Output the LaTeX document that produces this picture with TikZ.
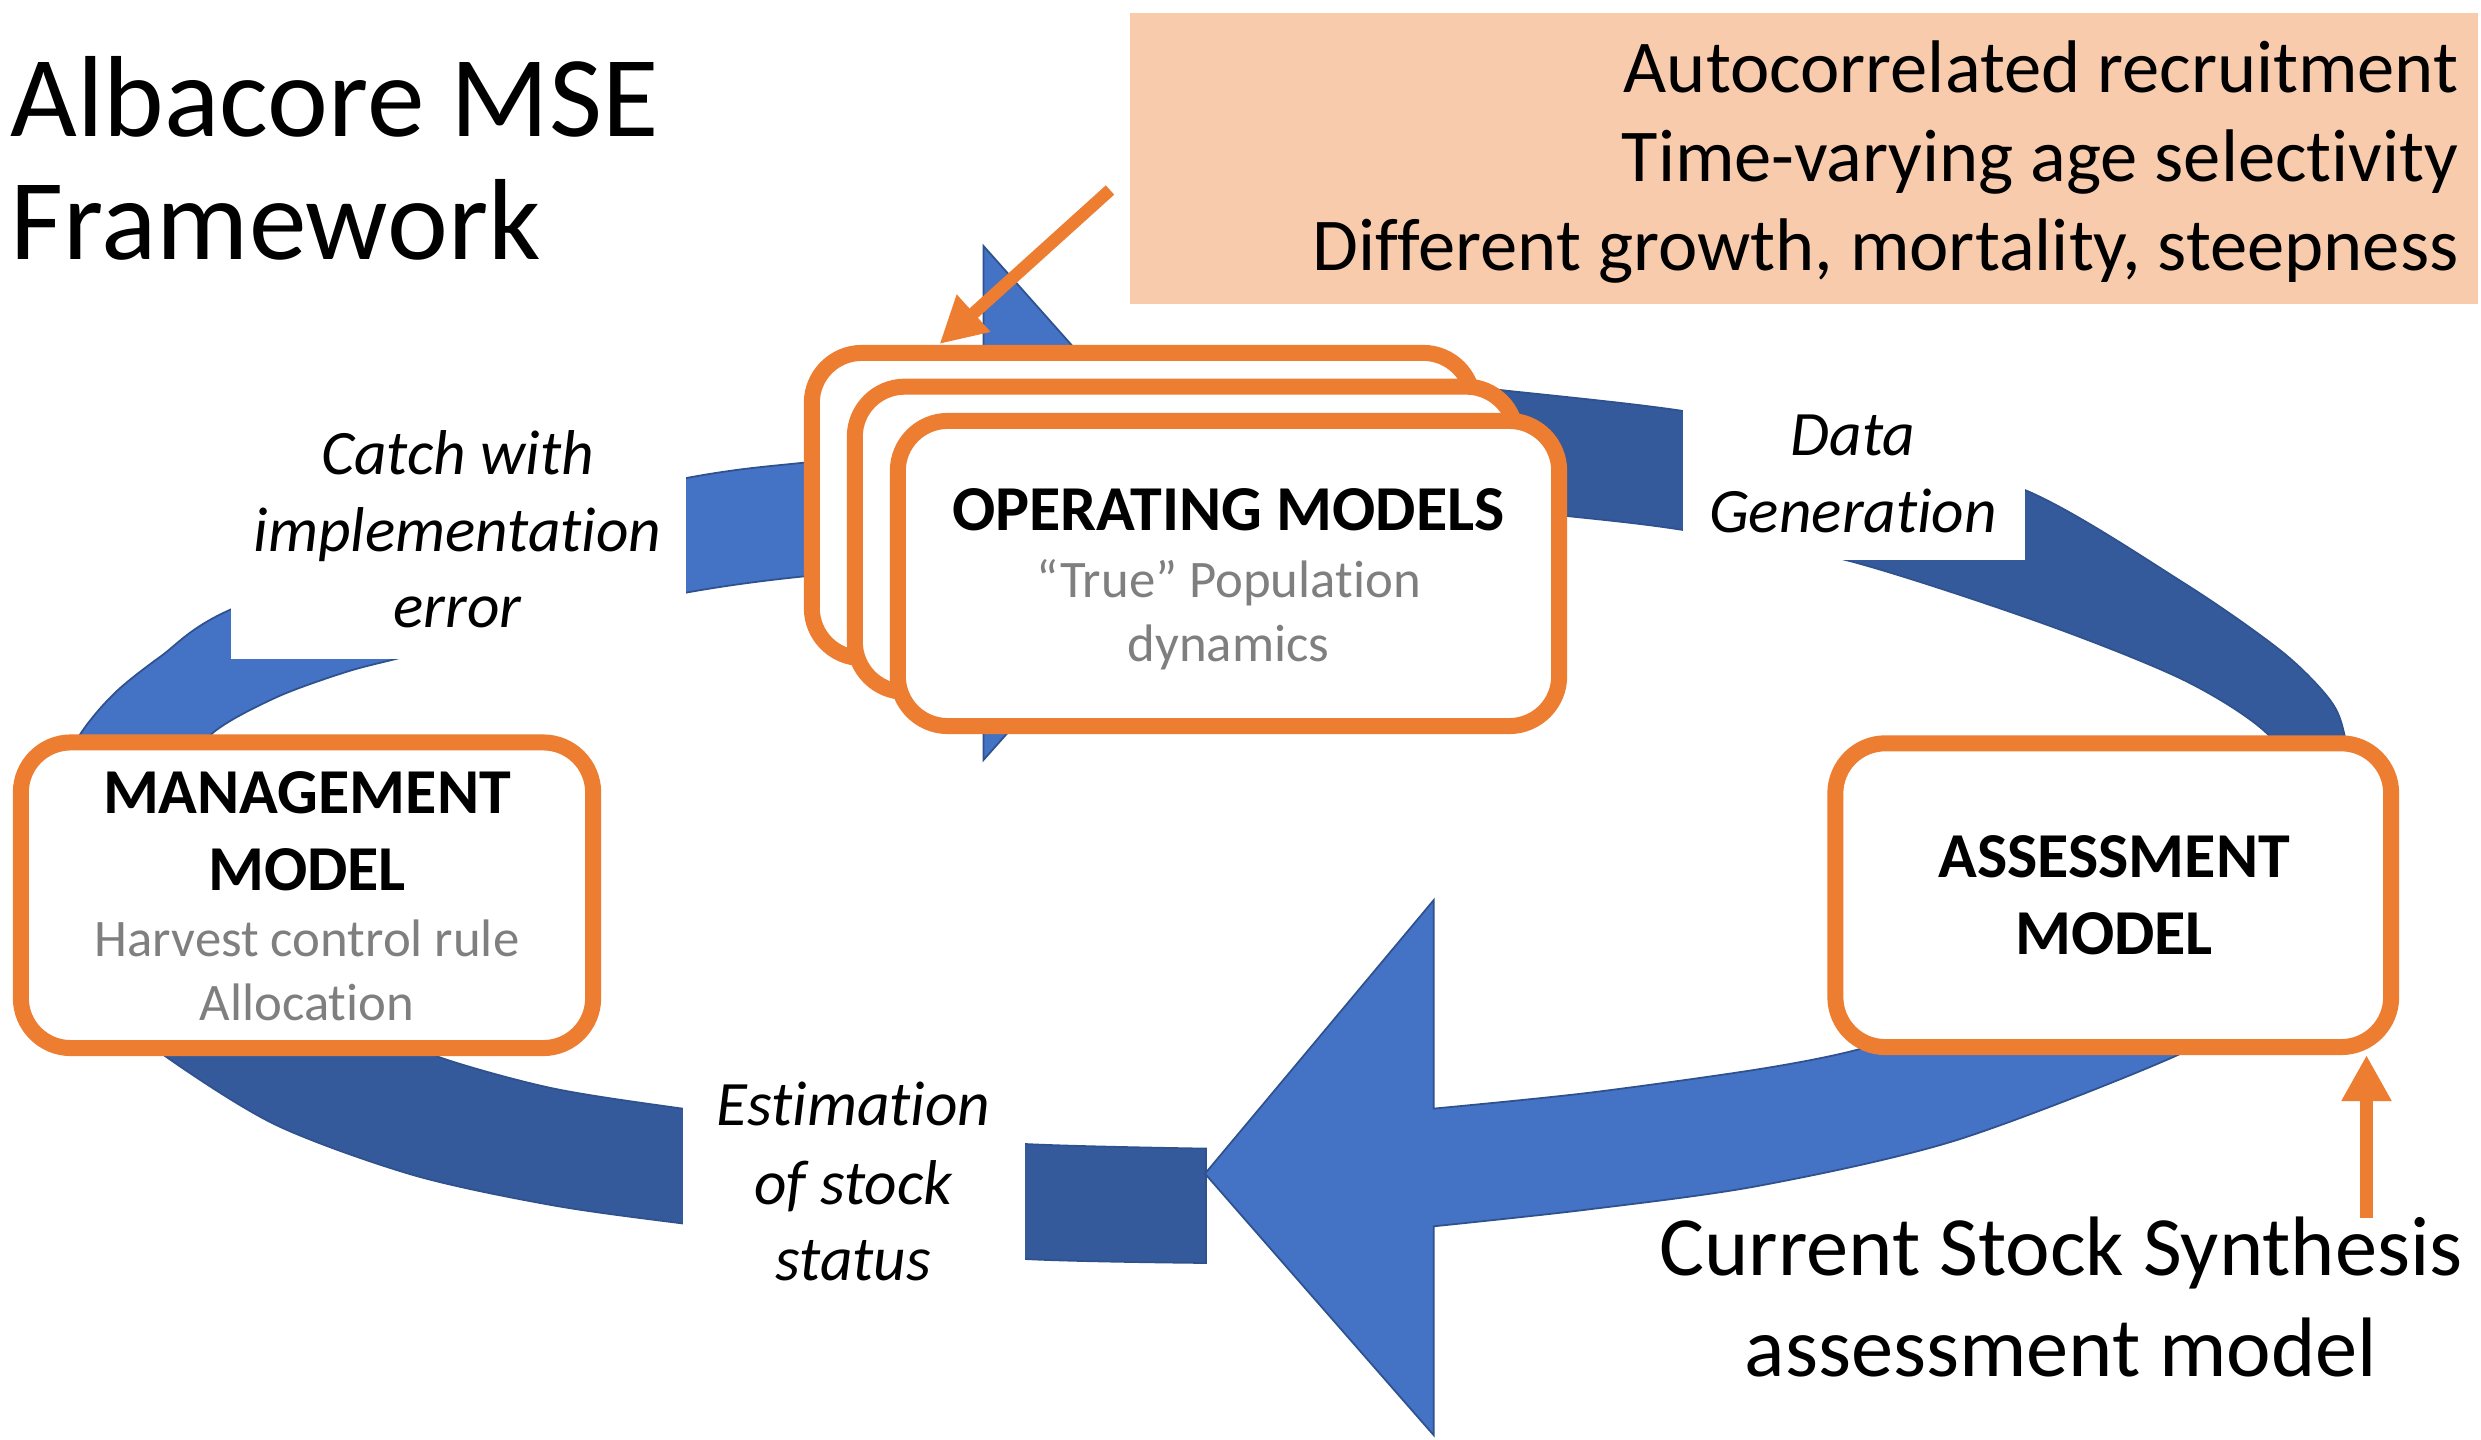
\documentclass[tikz,border=0pt]{standalone}
\usepackage{fontspec}
\setmainfont{Carlito}[Ligatures={TeX,NoCommon}]
\usetikzlibrary{arrows.meta}
\definecolor{bandlight}{HTML}{4472C4}
\definecolor{banddark}{HTML}{345A9B}
\definecolor{bandedge}{HTML}{2F528F}
\definecolor{accentorange}{HTML}{ED7D31}
\definecolor{peach}{HTML}{F8CBAD}
\definecolor{subgray}{HTML}{7F7F7F}
\tikzset{
  txt/.style={inner sep=0pt, anchor=base},
  titletext/.style={txt, anchor=base west, font=\fontsize{32.8pt}{35pt}\selectfont},
  peachtext/.style={txt, anchor=base east, font=\fontsize{21.2pt}{25pt}\selectfont},
  notetext/.style={txt, font=\fontsize{24pt}{29pt}\selectfont},
  boxtitle/.style={txt, font=\fontsize{18.2pt}{21.8pt}\selectfont\bfseries},
  boxsub/.style={txt, text=subgray, font=\fontsize{15pt}{18.2pt}\selectfont},
  flowlabel/.style={txt, font=\fontsize{18pt}{21.8pt}\selectfont\itshape},
  modelbox/.style={draw=accentorange, line width=0.16cm, fill=white, rounded corners=0.5cm, inner sep=0pt},
  lightband/.style={fill=bandlight, draw=bandedge, line width=0.5pt},
  darkband/.style={fill=banddark, draw=bandedge, line width=0.5pt},
  orangearrow/.style={draw=accentorange, line width=0.125cm, -{Triangle[length=0.46cm,width=0.47cm]}},
}
\begin{document}
\begin{tikzpicture}[x=0.01cm,y=-0.01cm]
\useasboundingbox (0,0) rectangle (2481,1440);
\fill[white] (0,0) rectangle (2481,1440);

% ---- dark band: operating models -> assessment
\filldraw[darkband] plot[smooth] coordinates {(1250,372) (1400,380) (1500,390) (1683,411) (1850,444) (2026,490.5) (2184.7,583.6) (2281.7,651.5) (2330,700) (2344.7,736) (2352,800)}
  -- plot[smooth] coordinates {(2300,800) (2269.6,736) (2184.7,680.5) (2039,622) (1846.9,560.3) (1683,530) (1566.7,516) (1400,500) (1250,492)} -- cycle;

% ---- dark band: estimation -> management
\filldraw[darkband] plot[smooth] coordinates {(1206,1148.6) (1025,1144) (850,1130) (683,1108.7) (551,1088) (436,1056) (380,1025)}
  -- plot[smooth] coordinates {(120,1015) (165,1056) (275.5,1124.7) (413,1175) (551,1205) (683,1223.5) (850,1243) (1025,1259) (1206,1263)} -- cycle;

% ---- light band: management -> operating models (with head)
\filldraw[lightband] plot[smooth] coordinates {(45,800) (80,734.5) (114.8,693) (160.7,656.4) (230.5,609.6) (450,528) (686.4,478) (803.8,462.7) (983.5,448)}
  -- (983.5,246) -- (1212,503) -- (983.5,760)
  -- plot[smooth] coordinates {(983.5,562) (803.8,576.4) (686.4,592.6) (540,624) (397,658.7) (344.4,672.5) (275.5,697.7) (211,734.5) (175,790)} -- cycle;

% ---- light band: assessment -> estimation (big head)
\filldraw[lightband] plot[smooth] coordinates {(2240,1010) (2180,1054) (1957,1140) (1760,1185.6) (1587,1209.6) (1433.8,1226.3)}
  -- (1433.8,1435.3) -- (1205,1173.7) -- (1433.8,900)
  -- plot[smooth] coordinates {(1433.8,1108.6) (1587,1093) (1760,1069) (1860,1049) (1950,1018) (2050,975)} -- cycle;

% ---- white label backgrounds
\fill[white] (230.5,415) rectangle (686.4,659);
\fill[white] (1683,385) rectangle (2025,560);
\fill[white] (683,1060) rectangle (1025,1310);

% ---- model boxes
\node[modelbox, minimum width=6.61cm, minimum height=3.05cm] (om1) at (1142.5,505.5) {};
\node[modelbox, minimum width=6.61cm, minimum height=3.05cm] (om2) at (1185.5,539.25) {};
\node[modelbox, minimum width=6.61cm, minimum height=3.05cm] (om3) at (1228.5,573.5) {};
\node[modelbox, minimum width=5.72cm, minimum height=3.055cm] (mgmt) at (307,895.25) {};
\node[modelbox, minimum width=5.555cm, minimum height=3.036cm] (assess) at (2113.25,895.2) {};

% ---- peach note box
\node[fill=peach, inner sep=0pt, minimum width=13.472cm, minimum height=2.908cm] (peach) at (1804.4,158.6) {};
\node[peachtext] (pk1) at (2459,92.5) {Autocorrelated recruitment};
\node[peachtext] (pk2) at (2459,182) {Time-varying age selectivity};
\node[peachtext] (pk3) at (2459,271) {Different growth, mortality, steepness};

% ---- orange arrows
\coordinate (peachTail) at (1110,190);
\coordinate (omTip) at (939.5,344);
\draw[orangearrow] (peachTail) -- (omTip);
\coordinate (cssTail) at (2366.5,1218);
\draw[orangearrow] (cssTail) -- (cssTail |- assess.south);

% ---- title
\node[titletext] (title1) at (10,137) {Albacore MSE};
\node[titletext] (title2) at (10,259.3) {Framework};

% ---- box texts
\node[boxtitle] (omT) at (1228.5,531) {OPERATING MODELS};
\node[boxsub] (omS1) at (1228.5,598) {“True” Population};
\node[boxsub] (omS2) at (1228.5,661.5) {dynamics};

\node[boxtitle] (mgT1) at (307,814) {MANAGEMENT};
\node[boxtitle] (mgT2) at (307,890.6) {MODEL};
\node[boxsub] (mgS1) at (307,957) {Harvest control rule};
\node[boxsub] (mgS2) at (307,1021) {Allocation};

\node[boxtitle] (asT1) at (2114,877.5) {ASSESSMENT};
\node[boxtitle] (asT2) at (2114,955) {MODEL};

% ---- flow labels
\node[flowlabel] (cw1) at (457.5,475) {Catch with};
\node[flowlabel] (cw2) at (457.5,551.5) {implementation};
\node[flowlabel] (cw3) at (457.5,628) {error};

\node[flowlabel] (dg1) at (1853,456) {Data};
\node[flowlabel] (dg2) at (1853,533) {Generation};

\node[flowlabel] (es1) at (853.5,1126) {Estimation};
\node[flowlabel] (es2) at (853.5,1204) {of stock};
\node[flowlabel] (es3) at (853.5,1280) {status};

% ---- note under assessment
\node[notetext] (css1) at (2061,1275) {Current Stock Synthesis};
\node[notetext] (css2) at (2061,1376) {assessment model};
\end{tikzpicture}
\end{document}
